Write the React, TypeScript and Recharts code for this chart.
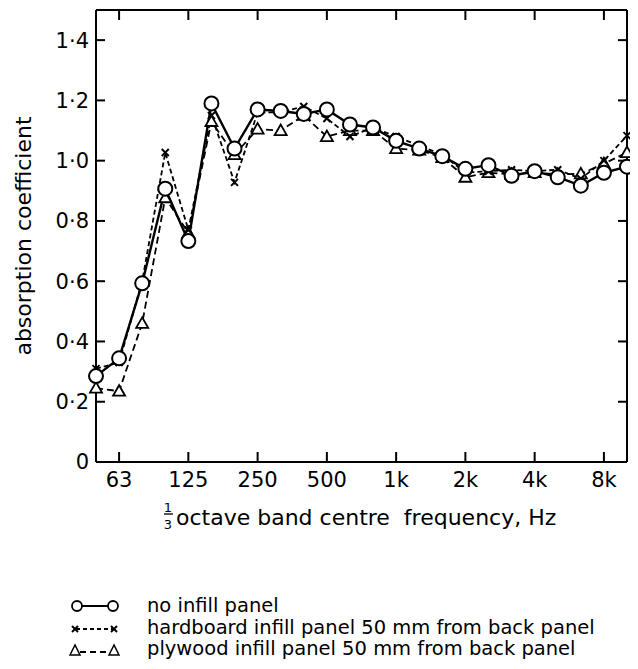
import React from 'react';
import { LineChart, Line, XAxis, YAxis } from 'recharts';

// 1/3-octave band centre frequencies (50 Hz .. 10 kHz)
const bands = ['50', '63', '80', '100', '125', '160', '200', '250', '315', '400', '500', '630', '800', '1k', '1.25k', '1.6k', '2k', '2.5k', '3.15k', '4k', '5k', '6.3k', '8k', '10k'];

// no infill panel (circles, solid)
const noInfill = [0.285, 0.344, 0.593, 0.907, 0.733, 1.19, 1.04, 1.17, 1.165, 1.155, 1.17, 1.12, 1.11, 1.066, 1.04, 1.015, 0.973, 0.985, 0.95, 0.965, 0.945, 0.917, 0.96, 0.98];
// hardboard infill panel 50 mm from back panel (crosses, dashed)
const hardboard = [0.31, 0.33, 0.6, 1.027, 0.77, 1.15, 0.928, 1.16, 1.16, 1.18, 1.14, 1.08, 1.11, 1.08, 1.05, 1.02, 0.96, 0.965, 0.97, 0.965, 0.97, 0.94, 1.0, 1.083];
// plywood infill panel 50 mm from back panel (triangles, dashed)
const plywood = [0.245, 0.235, 0.46, 0.877, 0.76, 1.13, 1.02, 1.105, 1.1, 1.15, 1.08, 1.1, 1.1, 1.04, 1.035, 1.01, 0.945, 0.96, 0.955, 0.96, 0.955, 0.956, 0.99, 1.027];

const xTickBands = ['63', '125', '250', '500', '1k', '2k', '4k', '8k'];
const yTicks = [0, 0.2, 0.4, 0.6, 0.8, 1.0, 1.2, 1.4];
const yTickLabels = ['0', '0·2', '0·4', '0·6', '0·8', '1·0', '1·2', '1·4'];
const rightTicks = [0.2, 0.4, 0.6, 0.8, 1.0, 1.2, 1.4];

const legendLabels = [
  'no infill panel',
  'hardboard infill panel 50 mm from back panel',
  'plywood infill panel 50 mm from back panel',
];

const data = bands.map((b, i) => ({
  i,
  band: b,
  noInfill: noInfill[i],
  hardboard: hardboard[i],
  plywood: plywood[i],
}));
const xTicks = xTickBands.map((b) => bands.indexOf(b));

const FONT = 'DejaVu Sans';

const CircleDot = (props: any) => {
  const { cx, cy, index } = props;
  if (cx == null || cy == null) return <g key={`c${index}`} />;
  return <circle key={`c${index}`} cx={cx} cy={cy} r={7} fill="#fff" stroke="#000" strokeWidth={2} />;
};

const CrossDot = (props: any) => {
  const { cx, cy, index } = props;
  if (cx == null || cy == null) return <g key={`x${index}`} />;
  const s = 3.5;
  return (
    <g key={`x${index}`} stroke="#000" strokeWidth={2}>
      <line x1={cx - s} y1={cy - s} x2={cx + s} y2={cy + s} />
      <line x1={cx - s} y1={cy + s} x2={cx + s} y2={cy - s} />
    </g>
  );
};

const TriDot = (props: any) => {
  const { cx, cy, index } = props;
  if (cx == null || cy == null) return <g key={`t${index}`} />;
  return (
    <polygon
      key={`t${index}`}
      points={`${cx},${cy - 6} ${cx - 6},${cy + 4.5} ${cx + 6},${cy + 4.5}`}
      fill="#fff"
      stroke="#000"
      strokeWidth={1.8}
    />
  );
};

const YLabel = (props: any) => {
  const vb = props.viewBox || {};
  const bx = vb.x - 5;
  const cy = vb.y + vb.height / 2;
  return (
    <text
      x={bx}
      y={cy}
      transform={`rotate(-90, ${bx}, ${cy})`}
      textAnchor="middle"
      fontFamily={FONT}
      fontSize={22}
      fill="#000"
    >
      absorption coefficient
    </text>
  );
};

const XTitle = (props: any) => {
  const vb = props.viewBox || {};
  const x = vb.x;
  const y = vb.y;
  return (
    <g fill="#000" fontFamily={FONT}>
      <text x={x + 72} y={y + 50} fontSize={13} textAnchor="middle">1</text>
      <line x1={x + 68} y1={y + 52} x2={x + 77} y2={y + 52} stroke="#000" strokeWidth={1.3} />
      <text x={x + 72} y={y + 67} fontSize={13} textAnchor="middle">3</text>
      <text x={x + 80} y={y + 63} fontSize={22} style={{ whiteSpace: 'pre' }}>
        octave band centre  frequency, Hz
      </text>
    </g>
  );
};

const Legend = () => {
  const rows = [26, 48, 69];
  return (
    <svg width={620} height={75} style={{ position: 'absolute', left: 0, top: 578 }}>
      {/* circles */}
      <line x1={69} y1={rows[0] - 6} x2={105} y2={rows[0] - 6} stroke="#000" strokeWidth={2.2} />
      <circle cx={69} cy={rows[0] - 6} r={5} fill="#fff" stroke="#000" strokeWidth={1.8} />
      <circle cx={105} cy={rows[0] - 6} r={5} fill="#fff" stroke="#000" strokeWidth={1.8} />
      {/* crosses */}
      <line x1={68} y1={rows[1] - 5} x2={106} y2={rows[1] - 5} stroke="#000" strokeWidth={1.8} strokeDasharray="4 3" />
      {[67, 106].map((cx) => (
        <g key={cx} stroke="#000" strokeWidth={2}>
          <line x1={cx - 3} y1={rows[1] - 8} x2={cx + 3} y2={rows[1] - 2} />
          <line x1={cx - 3} y1={rows[1] - 2} x2={cx + 3} y2={rows[1] - 8} />
        </g>
      ))}
      {/* triangles */}
      <line x1={72} y1={rows[2] - 3} x2={102} y2={rows[2] - 3} stroke="#000" strokeWidth={1.8} strokeDasharray="6 4" />
      {[67, 106].map((cx) => (
        <polygon
          key={cx}
          points={`${cx},${rows[2] - 10} ${cx - 5},${rows[2]} ${cx + 5},${rows[2]}`}
          fill="#fff"
          stroke="#000"
          strokeWidth={1.5}
        />
      ))}
      {legendLabels.map((t, k) => (
        <text key={t} x={139} y={rows[k]} fontFamily={FONT} fontSize={19.5} fill="#000">
          {t}
        </text>
      ))}
    </svg>
  );
};

export default function App() {
  return (
    <div style={{ position: 'relative', width: 622, height: 653, background: '#fff', overflow: 'hidden' }}>
      <style>{`html, body { overflow: hidden; }`}</style>
      <LineChart
        width={622}
        height={524}
        data={data}
        margin={{ top: 1, right: 2, bottom: 0, left: 28 }}
      >
        <XAxis
          dataKey="i"
          type="number"
          domain={[0, 23]}
          ticks={xTicks}
          tickFormatter={(v: number) => bands[v]}
          tickSize={-10}
          tickMargin={20}
          height={70}
          interval={0}
          axisLine={{ stroke: '#000', strokeWidth: 2 }}
          tickLine={{ stroke: '#000', strokeWidth: 2 }}
          tick={{ fontSize: 21, fill: '#000', fontFamily: FONT }}
          label={{ content: XTitle }}
        />
        <XAxis
          xAxisId="top"
          orientation="top"
          dataKey="i"
          type="number"
          domain={[0, 23]}
          ticks={xTicks}
          tickFormatter={() => ' '}
          tickSize={-10}
          height={1}
          interval={0}
          axisLine={{ stroke: '#000', strokeWidth: 2 }}
          tickLine={{ stroke: '#000', strokeWidth: 2 }}
        />
        <YAxis
          type="number"
          domain={[0, 1.5]}
          ticks={yTicks}
          tickFormatter={(v: number) => yTickLabels[yTicks.indexOf(v)] ?? ''}
          tickSize={-9}
          tickMargin={16}
          width={60}
          interval={0}
          axisLine={{ stroke: '#000', strokeWidth: 2 }}
          tickLine={{ stroke: '#000', strokeWidth: 2 }}
          tick={{ fontSize: 21, fill: '#000', fontFamily: FONT }}
          label={{ content: YLabel }}
        />
        <YAxis
          yAxisId="right"
          orientation="right"
          type="number"
          domain={[0, 1.5]}
          ticks={rightTicks}
          tickFormatter={() => ' '}
          tickSize={-9}
          width={1}
          interval={0}
          axisLine={{ stroke: '#000', strokeWidth: 2 }}
          tickLine={{ stroke: '#000', strokeWidth: 2 }}
        />
        {/* invisible series bound to the frame axes (top / right) so they are drawn */}
        <Line
          xAxisId="top"
          yAxisId="right"
          dataKey="noInfill"
          stroke="none"
          dot={false}
          activeDot={false}
          legendType="none"
          isAnimationActive={false}
        />
        <Line
          dataKey="plywood"
          type="linear"
          stroke="#000"
          strokeWidth={1.8}
          strokeDasharray="7 4"
          dot={TriDot}
          activeDot={false}
          isAnimationActive={false}
        />
        <Line
          dataKey="hardboard"
          type="linear"
          stroke="#000"
          strokeWidth={1.8}
          strokeDasharray="5 3"
          dot={CrossDot}
          activeDot={false}
          isAnimationActive={false}
        />
        <Line
          dataKey="noInfill"
          type="linear"
          stroke="#000"
          strokeWidth={2.4}
          dot={CircleDot}
          activeDot={false}
          isAnimationActive={false}
        />
      </LineChart>
      <Legend />
    </div>
  );
}
